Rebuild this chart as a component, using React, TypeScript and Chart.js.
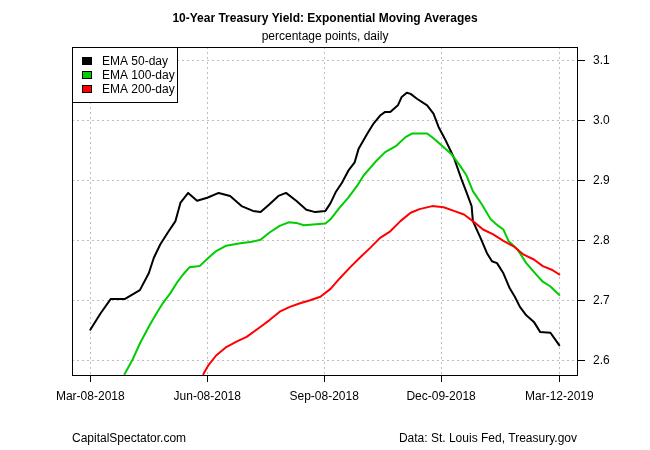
import React, { useEffect, useRef } from "react";
import { Chart, registerables } from "chart.js";

Chart.register(...registerables);

const FONT = '"Liberation Sans", Arial, Helvetica, sans-serif';

const TITLE = "10-Year Treasury Yield: Exponential Moving Averages";
const SUBTITLE = "percentage points, daily";
const FOOT_LEFT = "CapitalSpectator.com";
const FOOT_RIGHT = "Data: St. Louis Fed, Treasury.gov";

// x values are calendar days after Mar-08-2018
const tickDays = [0, 92, 184, 276, 369];
const tickLabels = ["Mar-08-2018", "Jun-08-2018", "Sep-08-2018", "Dec-09-2018", "Mar-12-2019"];
const yTicks = [2.6, 2.7, 2.8, 2.9, 3.0, 3.1];

const seriesNames = ["EMA 50-day", "EMA 100-day", "EMA 200-day"];
const seriesColors = ["#000000", "#00CD00", "#FF0000"];

const ema50Days = [0, 8, 16, 27, 39, 46, 50, 55, 61, 67, 71, 77, 84, 92, 101, 110, 119, 128, 134, 141, 148, 154, 162, 170, 177, 185, 189, 193, 198, 203, 208, 211, 218, 223, 228, 232, 236, 242, 245, 249, 252, 257, 265, 270, 274, 279, 286, 292, 296, 300, 301, 307, 312, 316, 320, 325, 330, 334, 338, 343, 349, 354, 362, 366, 369];
const ema50Values = [2.651, 2.678, 2.702, 2.702, 2.717, 2.745, 2.771, 2.793, 2.813, 2.832, 2.863, 2.879, 2.866, 2.871, 2.879, 2.874, 2.857, 2.849, 2.847, 2.860, 2.874, 2.879, 2.866, 2.851, 2.847, 2.849, 2.862, 2.880, 2.896, 2.916, 2.930, 2.952, 2.978, 2.995, 3.008, 3.014, 3.014, 3.025, 3.039, 3.046, 3.044, 3.036, 3.025, 3.011, 2.989, 2.969, 2.938, 2.902, 2.880, 2.857, 2.832, 2.804, 2.779, 2.765, 2.762, 2.745, 2.720, 2.706, 2.689, 2.675, 2.664, 2.647, 2.646, 2.634, 2.625];

const ema100Days = [27, 33, 39, 46, 52, 57, 63, 68, 73, 78, 86, 93, 99, 107, 118, 126, 134, 141, 149, 156, 162, 168, 185, 189, 196, 203, 210, 215, 224, 232, 241, 248, 253, 265, 270, 278, 284, 291, 296, 301, 308, 315, 321, 325, 329, 336, 343, 350, 356, 362, 369];
const ema100Values = [2.577, 2.600, 2.628, 2.656, 2.678, 2.695, 2.712, 2.729, 2.743, 2.755, 2.757, 2.771, 2.782, 2.791, 2.795, 2.797, 2.801, 2.813, 2.824, 2.830, 2.829, 2.825, 2.828, 2.835, 2.854, 2.871, 2.891, 2.908, 2.930, 2.947, 2.958, 2.972, 2.978, 2.978, 2.970, 2.955, 2.944, 2.924, 2.908, 2.882, 2.860, 2.835, 2.824, 2.818, 2.799, 2.785, 2.762, 2.745, 2.731, 2.723, 2.709];

const ema200Days = [89, 93, 99, 107, 115, 123, 134, 141, 149, 157, 165, 173, 181, 189, 196, 204, 212, 220, 228, 236, 244, 252, 259, 269, 278, 286, 294, 301, 309, 317, 325, 333, 341, 349, 356, 363, 369];
const ema200Values = [2.577, 2.592, 2.608, 2.622, 2.631, 2.639, 2.656, 2.667, 2.681, 2.689, 2.695, 2.700, 2.706, 2.719, 2.736, 2.754, 2.771, 2.787, 2.804, 2.815, 2.832, 2.846, 2.852, 2.857, 2.855, 2.849, 2.843, 2.832, 2.818, 2.810, 2.799, 2.790, 2.776, 2.768, 2.757, 2.751, 2.743];

const X_MIN = -14.4;
const X_MAX = 383.7;
const Y_MIN = 2.5755;
const Y_MAX = 3.1222;

const toPoints = (days: number[], vals: number[]) => days.map((d, i) => ({ x: d, y: vals[i] }));

const decorPlugin = {
  id: "decor",
  afterDraw(chart: any) {
    const { ctx, chartArea: a } = chart;
    ctx.save();
    ctx.fillStyle = "#000";
    ctx.textBaseline = "middle";
    ctx.textAlign = "center";
    const cx = (a.left + a.right) / 2;
    ctx.font = `bold 12px ${FONT}`;
    ctx.fillText(TITLE, cx, 19);
    ctx.font = `12px ${FONT}`;
    ctx.fillText(SUBTITLE, cx, 37);
    ctx.textAlign = "left";
    ctx.fillText(FOOT_LEFT, 72, 439);
    ctx.textAlign = "right";
    ctx.fillText(FOOT_RIGHT, 577, 439);

    // plot box
    const l = Math.round(a.left), t = Math.round(a.top), r = Math.round(a.right), b = Math.round(a.bottom);
    ctx.strokeStyle = "#000";
    ctx.lineWidth = 1;
    ctx.setLineDash([]);
    ctx.strokeRect(l + 0.5, t + 0.5, r - l - 1, b - t);

    // legend
    ctx.fillStyle = "#fff";
    ctx.fillRect(l, t, 106, 56);
    ctx.strokeRect(l + 0.5, t + 0.5, 105, 55);
    const centers = [61, 75, 89];
    ctx.font = `12px ${FONT}`;
    ctx.textAlign = "left";
    seriesNames.forEach((name, i) => {
      const c = centers[i];
      ctx.fillStyle = seriesColors[i];
      ctx.fillRect(82, c - 4, 10, 8);
      ctx.strokeStyle = "#000";
      ctx.strokeRect(82.5, c - 3.5, 9, 7);
      ctx.fillStyle = "#000";
      ctx.fillText(name, 102, c + 0.5);
    });
    ctx.restore();
  },
};

export default function App() {
  const canvasRef = useRef<HTMLCanvasElement | null>(null);

  useEffect(() => {
    if (!canvasRef.current) return;
    const gridColor = "#bebebe";
    const chart = new Chart(canvasRef.current, {
      type: "line",
      data: {
        datasets: [
          { label: seriesNames[0], data: toPoints(ema50Days, ema50Values), borderColor: seriesColors[0], order: 2 },
          { label: seriesNames[1], data: toPoints(ema100Days, ema100Values), borderColor: seriesColors[1], order: 1 },
          { label: seriesNames[2], data: toPoints(ema200Days, ema200Values), borderColor: seriesColors[2], order: 0 },
        ],
      },
      options: {
        responsive: false,
        animation: false,
        parsing: false as any,
        normalized: true,
        events: [],
        layout: { padding: { left: 72, top: 47, right: 0, bottom: 0 } },
        elements: {
          line: { borderWidth: 2, tension: 0, borderJoinStyle: "round", borderCapStyle: "round", fill: false },
          point: { radius: 0, hoverRadius: 0 },
        },
        plugins: {
          legend: { display: false },
          title: { display: false },
          tooltip: { enabled: false },
        },
        scales: {
          x: {
            type: "linear",
            position: "bottom",
            min: X_MIN,
            max: X_MAX,
            afterBuildTicks: (scale: any) => {
              scale.ticks = tickDays.map((v) => ({ value: v }));
            },
            afterFit: (scale: any) => {
              scale.height = 75;
            },
            ticks: {
              autoSkip: false,
              maxRotation: 0,
              minRotation: 0,
              padding: 7,
              color: "#000",
              font: { family: FONT, size: 12 },
              callback: (v: any) => {
                const i = tickDays.indexOf(Number(v));
                return i >= 0 ? tickLabels[i] : "";
              },
            },
            grid: {
              display: true,
              drawOnChartArea: true,
              drawTicks: true,
              color: gridColor,
              lineWidth: 1,
              tickLength: 7,
              tickColor: "#000",
              tickWidth: 1,
            },
            border: { display: false, dash: [2, 3] },
          },
          y: {
            type: "linear",
            position: "right",
            min: Y_MIN,
            max: Y_MAX,
            afterBuildTicks: (scale: any) => {
              scale.ticks = yTicks.map((v) => ({ value: v }));
            },
            afterFit: (scale: any) => {
              scale.width = 72;
            },
            ticks: {
              padding: 8,
              color: "#000",
              font: { family: FONT, size: 12 },
              callback: (v: any) => Number(v).toFixed(1),
            },
            grid: {
              display: true,
              drawOnChartArea: true,
              drawTicks: true,
              color: gridColor,
              lineWidth: 1,
              tickLength: 7,
              tickColor: "#000",
              tickWidth: 1,
            },
            border: { display: false, dash: [2, 3] },
          },
        },
      },
      plugins: [decorPlugin],
    } as any);
    return () => chart.destroy();
  }, []);

  return (
    <div style={{ position: "absolute", left: 0, top: 0, width: 650, height: 450, background: "#fff" }}>
      <canvas ref={canvasRef} width={650} height={450} style={{ display: "block", width: 650, height: 450 }} />
    </div>
  );
}
